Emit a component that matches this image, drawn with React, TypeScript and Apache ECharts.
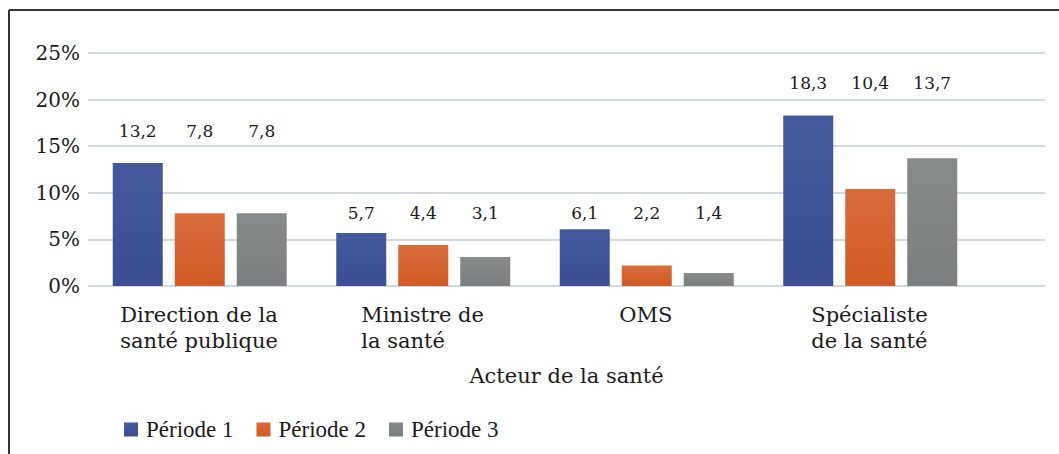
import React, { useEffect, useRef } from "react";
import * as echarts from "echarts";

const categories = ["Direction de la\nsanté publique", "Ministre de\nla santé", "OMS", "Spécialiste\nde la santé"];
const seriesNames = ["Période 1", "Période 2", "Période 3"];
const periode1 = [13.2, 5.7, 6.1, 18.3];
const periode2 = [7.8, 4.4, 2.2, 10.4];
const periode3 = [7.8, 3.1, 1.4, 13.7];
const labelGap = [32, 20, 16, 32];
const colors = [
  ["#46599d", "#3c4e93"],
  ["#d86c3d", "#d25a24"],
  ["#878a8a", "#7c7f80"],
];

const SERIF = '"DejaVu Serif", serif';
const GRID_LEFT = 88;
const GRID_TOP = 53;
const GRID_H = 233;
const Y_MAX = 25;

function measure(text: string, font: string): number {
  const c = document.createElement("canvas");
  const ctx = c.getContext("2d")!;
  ctx.font = font;
  return ctx.measureText(text).width;
}

export default function App() {
  const ref = useRef<HTMLDivElement>(null);
  useEffect(() => {
    const chart = echarts.init(ref.current!, null, { renderer: "svg" });
    const all = [periode1, periode2, periode3];
    const groupMax = categories.map((_, i) => Math.max(...all.map((s) => s[i])));
    const k = GRID_H / Y_MAX;
    const rich: any = {};
    categories.forEach((c, i) => {
      const w = Math.max(...c.split("\n").map((l) => measure(l, `21px ${SERIF}`)));
      rich["c" + i] = {
        width: Math.ceil(w) + 1,
        align: "left",
        fontFamily: SERIF,
        fontSize: 21,
        lineHeight: 26,
        color: "#1a1a1a",
      };
    });
    const series = all.map((arr, si) => ({
      name: seriesNames[si],
      type: "bar",
      xAxisIndex: 1,
      yAxisIndex: 1,
      barWidth: 50,
      barGap: "24%",
      itemStyle: {
        color: new echarts.graphic.LinearGradient(0, 0, 0, 1, [
          { offset: 0, color: colors[si][0] },
          { offset: 1, color: colors[si][1] },
        ]),
      },
      data: arr.map((v, i) => ({
        value: v,
        label: {
          show: true,
          position: "top",
          distance: 0,
          verticalAlign: "middle",
          offset: [0, -((groupMax[i] - v) * k + labelGap[i])],
          formatter: () => v.toFixed(1).replace(".", ","),
          fontFamily: SERIF,
          fontSize: 17,
          color: "#1a1a1a",
        },
      })),
    }));
    chart.setOption({
      animation: false,
      color: colors.map((c) => c[1]),
      legend: {
        left: 124,
        top: 418,
        padding: 0,
        icon: "rect",
        itemWidth: 14,
        itemHeight: 14,
        itemGap: 23,
        data: seriesNames,
        textStyle: {
          fontFamily: '"Liberation Serif", serif',
          fontSize: 23,
          color: "#1a1a1a",
          padding: [0, 0, 0, 3],
        },
      },
      grid: [
        { left: GRID_LEFT, top: GRID_TOP, width: 957, height: GRID_H },
        { left: GRID_LEFT, top: GRID_TOP, width: 894, height: GRID_H },
      ],
      xAxis: [
        {
          gridIndex: 0,
          type: "category",
          data: [""],
          axisLine: { show: false },
          axisTick: { show: false },
          axisLabel: { show: false },
          name: "Acteur de la santé",
          nameLocation: "middle",
          nameGap: 79,
          nameTextStyle: { fontFamily: SERIF, fontSize: 21, color: "#1a1a1a" },
        },
        {
          gridIndex: 1,
          type: "category",
          data: categories,
          axisLine: { show: false },
          axisTick: { show: false },
          axisLabel: {
            margin: 16,
            interval: 0,
            formatter: (value: string, idx: number) =>
              value.split("\n").map((l) => `{c${idx}|${l}}`).join("\n"),
            rich,
          },
        },
      ],
      yAxis: [
        {
          gridIndex: 0,
          type: "value",
          min: 0,
          max: Y_MAX,
          interval: 5,
          axisLine: { show: false },
          axisTick: { show: false },
          axisLabel: {
            formatter: "{value}%",
            margin: 8,
            fontFamily: SERIF,
            fontSize: 20,
            color: "#1a1a1a",
          },
          splitLine: { lineStyle: { color: "#d3dadf", width: 2 } },
        },
        {
          gridIndex: 1,
          type: "value",
          min: 0,
          max: Y_MAX,
          interval: 5,
          show: false,
          splitLine: { show: false },
        },
      ],
      graphic: [
        { type: "line", shape: { x1: 9, y1: 10, x2: 1059, y2: 10 }, style: { stroke: "#333", lineWidth: 2 } },
        { type: "line", shape: { x1: 9, y1: 10, x2: 9, y2: 454 }, style: { stroke: "#333", lineWidth: 2 } },
      ],
      series,
    });
    return () => chart.dispose();
  }, []);
  return (
    <div
      ref={ref}
      style={{ position: "fixed", left: 0, top: 0, width: 1059, height: 454, background: "#fff" }}
    />
  );
}
